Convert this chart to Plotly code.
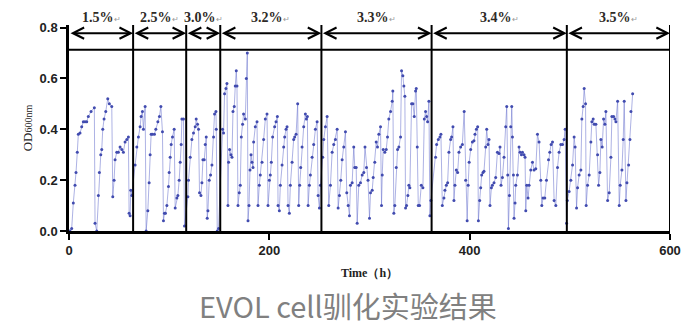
import plotly.graph_objects as go

# OD600 readings over the adaptation run (time in hours)
time_h = [
    1, 2.7, 4.3, 6, 7, 8.3, 9.3, 11, 12.7, 14.3, 16, 17.7, 19.3, 22, 25.3, 26, 27.7,
    29.3, 30.3, 31.7, 32.7, 33.7, 35, 36.7, 38.7, 40.3, 42.7, 43.7, 45, 46, 47.7,
    49.3, 51, 52.7, 54.3, 56, 57.7, 59.3, 60, 61, 61.7, 62.7,
    66, 67.7, 69.3, 71, 72, 73.3, 74.3, 76, 77, 78.7, 80, 81, 82, 83.3, 85.3, 86.7,
    88.7, 90.3, 91.7, 93.3, 94.3, 95.3, 96.3, 97.7, 99.3, 100, 101, 102, 103.3, 105,
    106, 107.7, 108.7, 110, 111, 112, 112.7, 114.3, 115.3,
    118.7, 119.3, 121, 122.7, 124.3, 126, 127, 128.3, 129.3, 130.3, 131.7, 132.7,
    133.7, 135, 136, 137, 138, 138.7, 140, 141.3, 142.7, 144.3, 145.3, 146.7, 147,
    148, 149.3,
    153.3, 154.3, 155.3, 156.7, 157.7, 158.7, 159.3, 160.3, 161.7, 162.7, 163.7, 165,
    166, 167, 167.7, 168.7, 170, 171, 172, 173.3, 174.3, 176, 177, 178, 178.7, 179.7,
    180.7, 181.7, 182.7, 183.7, 184.3, 186, 187.7, 188.7, 190, 191, 192.7, 194.3,
    196, 197.7, 198.7, 200, 201, 202, 203.3, 205.3, 206.7, 208, 208.7, 210, 211,
    212.7, 214.3, 215.3, 216.7, 217.7, 218.7, 220, 221, 222.7, 224.3, 225.3, 226.7,
    228.3, 229.3, 230.3, 231.3, 232.7, 234.3, 236, 237, 238, 238.7, 240, 241, 242.7,
    244.3, 246, 247.7, 248.7, 250, 251,
    253.3, 254.3, 256, 257.7, 259.3, 261, 262.7, 264.3, 266, 267.7, 268.7, 270,
    271.3, 272.7, 274.3, 276, 277.3, 278.7, 280, 281, 282.7, 284.3, 285.3, 286.7,
    287.7, 289.3, 291, 292.7, 294.3, 295.5, 297, 298.5, 300, 301, 302.7, 303.7,
    305.3, 306.7, 308, 309.3, 311, 312, 312.7, 313.7, 315.3, 316.7, 318, 319.3, 321,
    322.7, 323.3, 324.3, 325.3, 326.7, 328, 329.3, 331, 332, 333.3, 334.3, 335.3,
    336, 337, 338.3, 339.3, 340.3, 342, 343.3, 344.7, 346, 346.7, 347.7, 348.7, 350,
    351.7, 353.3, 354.7, 356, 357, 358, 359.3, 360.3, 361.3,
    366, 367, 368.7, 370.3, 371.3, 372.7, 374.3, 375.3, 376.7, 378, 379.3, 381, 382,
    383.3, 384.3, 385.3, 386.7, 388, 389.3, 391, 392.7, 394.5, 396, 397.5, 398.5,
    399.5, 401, 402.7, 404.3, 405.3, 406.7, 408, 408.7, 410, 411, 412, 413.3, 414.3,
    416, 417, 418.3, 419.3, 420.3, 421.7, 422.7, 424.3, 426, 427.7, 429.3, 430.3,
    431.3, 432.7, 434.3, 436, 437, 438, 438.7, 439.7, 441, 442, 442.7, 443.7, 444.3,
    445.3, 446, 447.7, 449.3, 450.3, 451.7, 452.7, 454.3, 455.3, 456, 457, 458.3,
    459.3, 461, 462.7, 464.3, 466, 467.7, 469.3, 471, 472, 473.3, 475, 476.7, 478.7,
    480, 481.3, 482.7, 484.3, 486, 487.7, 489.3, 491, 492.7, 494.3, 495.3, 496.7,
    497.5, 499.3, 501, 502.7, 504.3, 505.3, 506.7, 507.7, 509.3, 511, 512, 513.3,
    514.3, 515.7, 516.3, 517.7, 519.3, 521, 522, 523.3, 524.3, 526, 527.7, 528.7,
    530, 531, 532.3, 533.7, 535, 536, 537.7, 539.3, 541, 542, 543.7, 545, 546, 547.7,
    549.3, 550.3, 552, 553.3, 554.3, 556, 557, 558.7, 560, 561, 562.7,
]
od600 = [
    0.0, 0.01, 0.11, 0.18, 0.23, 0.31, 0.38, 0.385, 0.41, 0.43, 0.43, 0.43, 0.45, 0.47,
    0.485, 0.03, 0.0,
    0.14, 0.23, 0.30, 0.32, 0.40, 0.44, 0.47, 0.52, 0.50, 0.49, 0.135, 0.20, 0.28,
    0.31, 0.31, 0.33, 0.32, 0.31, 0.35, 0.36, 0.37, 0.07, 0.06, 0.16, 0.14,
    0.26, 0.33, 0.37, 0.41, 0.45, 0.47, 0.40, 0.49, 0.0, 0.08, 0.19, 0.30, 0.38,
    0.38, 0.38, 0.40, 0.43, 0.45, 0.49, 0.39, 0.04, 0.07, 0.07, 0.10, 0.175, 0.23,
    0.29, 0.34, 0.37, 0.40, 0.09, 0.13, 0.14, 0.20, 0.27, 0.34, 0.44, 0.44, 0.02,
    0.135, 0.20, 0.29, 0.36, 0.385, 0.41, 0.44, 0.42, 0.40, 0.15, 0.14, 0.19, 0.28,
    0.28, 0.34, 0.37, 0.05, 0.08, 0.20, 0.22, 0.26, 0.37, 0.46, 0.47, 0.40, 0.0,
    0.01,
    0.40, 0.385, 0.54, 0.56, 0.58, 0.10, 0.27, 0.32, 0.30, 0.29, 0.47, 0.49, 0.57,
    0.63, 0.57, 0.10, 0.15, 0.18, 0.37, 0.42, 0.46, 0.44, 0.60, 0.70, 0.04, 0.10,
    0.24, 0.30, 0.27, 0.25, 0.35, 0.41, 0.43, 0.10, 0.18, 0.22, 0.27, 0.36, 0.44,
    0.46, 0.10, 0.20, 0.22, 0.27, 0.37, 0.41, 0.43, 0.45, 0.10, 0.08, 0.18, 0.26,
    0.33, 0.37, 0.40, 0.41, 0.10, 0.07, 0.18, 0.27, 0.36, 0.37, 0.38, 0.50, 0.10,
    0.18, 0.25, 0.33, 0.41, 0.46, 0.44, 0.45, 0.10, 0.18, 0.22, 0.29, 0.34, 0.40,
    0.43, 0.14, 0.09, 0.18,
    0.29, 0.36, 0.41, 0.45, 0.10, 0.18, 0.31, 0.34, 0.36, 0.40, 0.09, 0.14, 0.20,
    0.28, 0.33, 0.39, 0.15, 0.10, 0.06, 0.18, 0.19, 0.33, 0.25, 0.25, 0.03, 0.18,
    0.19, 0.22, 0.23, 0.33, 0.25, 0.20, 0.05, 0.15, 0.16, 0.21, 0.27, 0.35, 0.33,
    0.38, 0.41, 0.10, 0.22, 0.32, 0.31, 0.32, 0.37, 0.44, 0.47, 0.51, 0.55, 0.07,
    0.10, 0.25, 0.32, 0.33, 0.37, 0.63, 0.61, 0.57, 0.53, 0.09, 0.10, 0.14, 0.18,
    0.17, 0.50, 0.50, 0.45, 0.55, 0.56, 0.33, 0.10, 0.10, 0.18, 0.17, 0.44, 0.47,
    0.45, 0.43, 0.51, 0.06, 0.12,
    0.29, 0.34, 0.36, 0.37, 0.38, 0.10, 0.13, 0.16, 0.18, 0.19, 0.31, 0.36, 0.37,
    0.41, 0.12, 0.18, 0.24, 0.23, 0.31, 0.33, 0.34, 0.47, 0.20, 0.04, 0.18, 0.27,
    0.32, 0.35, 0.355, 0.38, 0.40, 0.41, 0.04, 0.12, 0.17, 0.22, 0.23, 0.235, 0.33,
    0.40, 0.34, 0.36, 0.10, 0.17, 0.18, 0.19, 0.21, 0.31, 0.305, 0.33, 0.18, 0.21,
    0.29, 0.41, 0.49, 0.22, 0.01, 0.14, 0.41, 0.49, 0.37, 0.22, 0.05, 0.11, 0.18,
    0.22, 0.33, 0.31, 0.30, 0.31, 0.30, 0.29, 0.08, 0.18, 0.13, 0.18, 0.24, 0.27,
    0.24, 0.245, 0.38, 0.35, 0.20, 0.10, 0.13, 0.13, 0.20, 0.28, 0.31, 0.34, 0.35,
    0.12, 0.10, 0.25, 0.31, 0.34, 0.34, 0.36, 0.40, 0.03,
    0.12, 0.155, 0.20, 0.26, 0.37, 0.33, 0.09, 0.17, 0.22, 0.24, 0.44, 0.49, 0.56,
    0.50, 0.10, 0.18, 0.22, 0.35, 0.43, 0.44, 0.42, 0.42, 0.30, 0.18, 0.23, 0.36,
    0.33, 0.44, 0.42, 0.47, 0.12, 0.15, 0.29, 0.45, 0.45, 0.44, 0.43, 0.51, 0.10,
    0.18, 0.24, 0.36, 0.51, 0.12, 0.19, 0.26, 0.36, 0.47, 0.54,
]

# Salt stages: boundaries (h) and labels
stage_bounds = [0, 64, 117, 151, 252, 362, 497, 600]
stage_labels = ["1.5%", "2.5%", "3.0%", "3.2%", "3.3%", "3.4%", "3.5%"]

x_ticks = [0, 200, 400, 600]
y_ticks = [0.0, 0.2, 0.4, 0.6, 0.8]
y_max = 0.81
arrow_level = 0.778
band_level = 0.713

fig = go.Figure()
fig.add_trace(go.Scatter(
    x=time_h, y=od600, mode="lines+markers",
    line=dict(color="rgba(105,115,205,0.55)", width=1),
    marker=dict(color="rgb(65,75,175)", size=3),
    showlegend=False,
))

shapes = []
# vertical stage separators (incl. right border)
for b in stage_bounds[1:]:
    shapes.append(dict(type="line", xref="x", yref="y", x0=b, x1=b, y0=0, y1=y_max,
                       line=dict(color="black", width=2)))
# horizontal band line under the arrows
shapes.append(dict(type="line", xref="x", yref="y", x0=stage_bounds[0], x1=stage_bounds[-1],
                   y0=band_level, y1=band_level, line=dict(color="black", width=2)))

annotations = []
for i, lab in enumerate(stage_labels):
    x0, x1 = stage_bounds[i], stage_bounds[i + 1]
    # double-headed arrow spanning the stage
    annotations.append(dict(
        x=x1, y=arrow_level, ax=x0, ay=arrow_level, xref="x", yref="y",
        axref="x", ayref="y", text="", showarrow=True,
        arrowhead=5, startarrowhead=5, arrowside="end+start",
        arrowsize=1.1, startarrowsize=1.1, arrowwidth=2, arrowcolor="black",
        standoff=0, startstandoff=0,
    ))
    annotations.append(dict(
        x=(x0 + x1) / 2, y=1.034, xref="x", yref="paper", showarrow=False,
        text=f"<b>{lab}</b><span style='font-size:8px;color:#9a9a9a'>↵</span>",
        font=dict(family="Liberation Serif", size=14, color="#2e2a26"),
        xanchor="center", yanchor="middle",
    ))

annotations.append(dict(
    x=0.464, y=-0.36, xref="paper", yref="paper", showarrow=False,
    text="EVOL cell驯化实验结果",
    font=dict(family="Noto Sans CJK SC", size=29, color="#808080"),
    xanchor="center", yanchor="middle",
))

fig.update_layout(
    width=697, height=332,
    margin=dict(l=69, r=27, t=25, b=101),
    paper_bgcolor="white", plot_bgcolor="white",
    shapes=shapes, annotations=annotations,
    xaxis=dict(
        range=[0, 600], tickvals=x_ticks, showgrid=False, zeroline=False,
        showline=True, linecolor="black", linewidth=2.5,
        ticks="outside", ticklen=6, tickwidth=2, tickcolor="black",
        tickfont=dict(family="Liberation Sans", size=13, color="#222", weight="bold"),
        title=dict(text="<b>Time（h）</b>",
                   font=dict(family="Liberation Serif", size=12, color="#222"),
                   standoff=12),
    ),
    yaxis=dict(
        range=[0, y_max], tickvals=y_ticks, tickformat=".1f", showgrid=False,
        zeroline=False, showline=True, linecolor="black", linewidth=2.5,
        ticks="outside", ticklen=6, tickwidth=2, tickcolor="black",
        tickfont=dict(family="Liberation Sans", size=13, color="#222", weight="bold"),
        title=dict(text="OD<span style='font-size:10px'>600nm</span>",
                   font=dict(family="Liberation Serif", size=13, color="#222"),
                   standoff=5),
    ),
)

fig.write_html("out.html")
